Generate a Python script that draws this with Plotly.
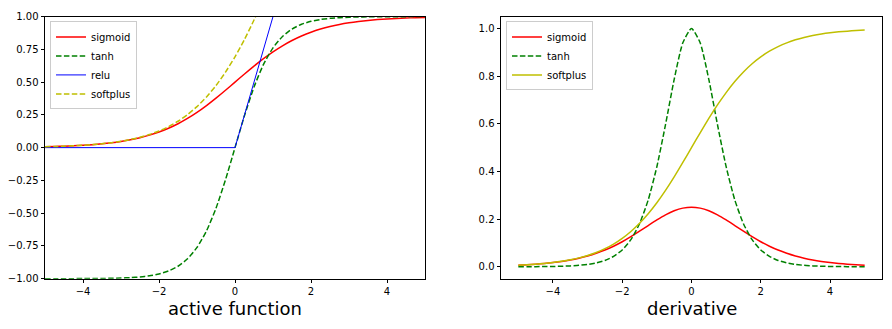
import plotly.graph_objects as go

# x grid (step 0.25 from -5 to 5)
x_vals = [-5 + 0.25 * i for i in range(41)]

sigmoid_neg = [0.00669, 0.00858, 0.01099, 0.01406, 0.01799, 0.02298, 0.02931, 0.03733,
               0.04743, 0.06009, 0.07586, 0.09535, 0.11920, 0.14805, 0.18243, 0.22270,
               0.26894, 0.32082, 0.37754, 0.43782]
sigmoid_vals = sigmoid_neg + [0.5] + [round(1 - v, 5) for v in reversed(sigmoid_neg)]

tanh_pos = [0.24492, 0.46212, 0.63515, 0.76159, 0.84828, 0.90515, 0.94138, 0.96403,
            0.97803, 0.98661, 0.99186, 0.99505, 0.99700, 0.99818, 0.99890, 0.99933,
            0.99959, 0.99975, 0.99985, 0.99991]
tanh_vals = [-v for v in reversed(tanh_pos)] + [0.0] + tanh_pos

relu_vals = [0.0] * 21 + [0.25, 0.5, 0.75, 1.0, 1.25, 1.5, 1.75, 2.0, 2.25, 2.5, 2.75,
                          3.0, 3.25, 3.5, 3.75, 4.0, 4.25, 4.5, 4.75, 5.0]

softplus_vals = [0.006715, 0.008615, 0.011048, 0.014163, 0.018150, 0.023246, 0.029750,
                 0.038041, 0.048587, 0.061975, 0.078889, 0.100154, 0.126928, 0.160222,
                 0.201413, 0.251929, 0.313262, 0.386871, 0.474077, 0.576069, 0.693147,
                 0.826069, 0.974077, 1.136871, 1.313262, 1.501929, 1.701413, 1.910222,
                 2.126928, 2.350154, 2.578889, 2.811975, 3.048587, 3.288041, 3.529750,
                 3.773246, 4.018150, 4.264163, 4.511048, 4.758615, 5.006715]

dsig_pos = [0.24613, 0.23500, 0.21789, 0.19661, 0.17311, 0.14915, 0.12613, 0.10499,
            0.08626, 0.07011, 0.05648, 0.04518, 0.03594, 0.02845, 0.02245, 0.01766,
            0.01386, 0.01087, 0.00851, 0.00665]
dsigmoid_vals = list(reversed(dsig_pos)) + [0.25] + dsig_pos

dtanh_pos = [0.94001, 0.78645, 0.59658, 0.41997, 0.28042, 0.18071, 0.11380, 0.07065,
             0.04346, 0.02660, 0.01621, 0.00987, 0.00599, 0.00363, 0.00220, 0.00134,
             0.00081, 0.00049, 0.00030, 0.00018]
dtanh_vals = list(reversed(dtanh_pos)) + [1.0] + dtanh_pos

dsoftplus_vals = sigmoid_vals

left_yticks = [-1.0, -0.75, -0.5, -0.25, 0.0, 0.25, 0.5, 0.75, 1.0]
right_yticks = [0.0, 0.2, 0.4, 0.6, 0.8, 1.0]
xticks = [-4, -2, 0, 2, 4]

RED, GREEN, BLUE, YEL = "#ff0000", "#008000", "#0000ff", "#bfbf00"
DASH = "5.5px,2.4px"
FONT = "DejaVu Sans"

fig = go.Figure()

def add(y, name, color, width, dash, xa, ya, legend):
    fig.add_trace(go.Scatter(
        x=x_vals, y=y, name=name, mode="lines",
        line=dict(color=color, width=width, dash=dash,
                  shape="linear" if name == "relu" else "spline", smoothing=0.6),
        xaxis=xa, yaxis=ya, legend=legend))

add(sigmoid_vals, "sigmoid", RED, 1.5, "solid", "x", "y", "legend")
add(tanh_vals, "tanh", GREEN, 1.5, DASH, "x", "y", "legend")
add(relu_vals, "relu", BLUE, 1.0, "solid", "x", "y", "legend")
add(softplus_vals, "softplus", YEL, 1.5, DASH, "x", "y", "legend")

add(dsigmoid_vals, "sigmoid", RED, 1.5, "solid", "x2", "y2", "legend2")
add(dtanh_vals, "tanh", GREEN, 1.5, DASH, "x2", "y2", "legend2")
add(dsoftplus_vals, "softplus", YEL, 1.5, "solid", "x2", "y2", "legend2")

W, H = 892, 329
y_dom = [1 - 283 / H, 1 - 11 / H]

axis_common = dict(showline=True, linecolor="black", linewidth=1, mirror=True,
                   showgrid=False, zeroline=False, ticks="outside", ticklen=3.5,
                   tickcolor="black", tickwidth=1,
                   tickfont=dict(family=FONT, size=10, color="black"))

legend_common = dict(xanchor="left", yanchor="top", y=1 - 16 / H,
                     bgcolor="rgba(255,255,255,0.8)", bordercolor="#cccccc", borderwidth=1,
                     font=dict(family=FONT, size=10), tracegroupgap=0, itemwidth=30)

fig.update_layout(
    width=W, height=H, margin=dict(l=0, r=0, t=0, b=0),
    paper_bgcolor="white", plot_bgcolor="white",
    font=dict(family=FONT, size=10, color="black"),
    xaxis=dict(domain=[45 / W, 425 / W], range=[-5, 5], tickvals=xticks, anchor="y",
               **axis_common),
    yaxis=dict(domain=y_dom, range=[-1, 1], tickvals=left_yticks, tickformat=".2f",
               anchor="x", **axis_common),
    xaxis2=dict(domain=[501 / W, 882 / W], range=[-5.5, 5.5], tickvals=xticks,
                anchor="y2", **axis_common),
    yaxis2=dict(domain=y_dom, range=[-0.05, 1.05], tickvals=right_yticks,
                tickformat=".1f", anchor="x2", **axis_common),
    legend=dict(x=50 / W, **legend_common),
    legend2=dict(x=506 / W, **legend_common),
    annotations=[
        dict(text="active function", x=235 / W, y=1 - 314 / H, xref="paper", yref="paper",
             xanchor="center", yanchor="middle", showarrow=False,
             font=dict(family=FONT, size=18, color="black")),
        dict(text="derivative", x=691.5 / W, y=1 - 314 / H, xref="paper", yref="paper",
             xanchor="center", yanchor="middle", showarrow=False,
             font=dict(family=FONT, size=18, color="black")),
    ],
)

fig.write_html("out.html")
